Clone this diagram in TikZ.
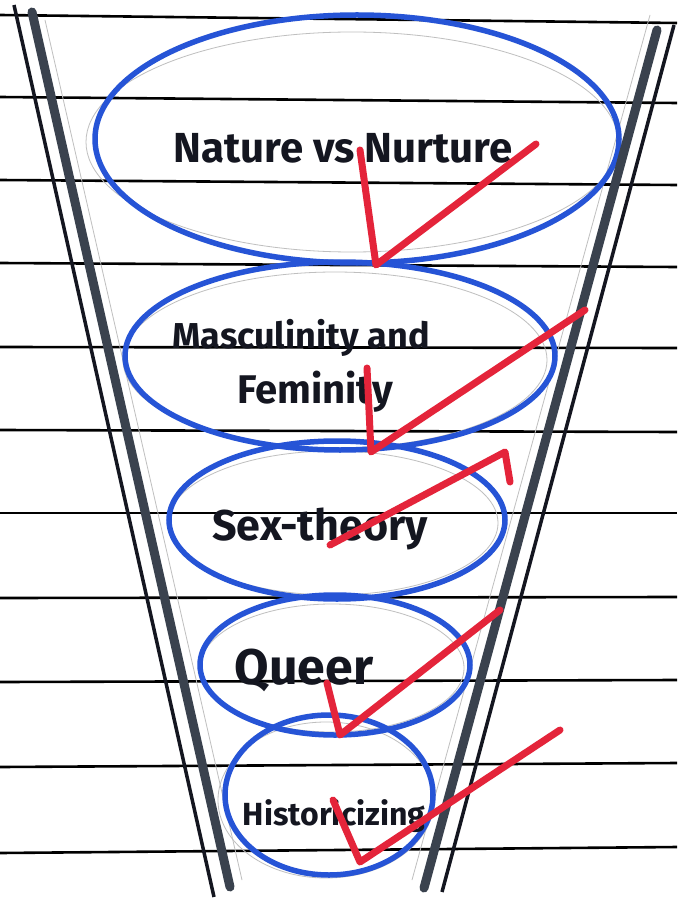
\documentclass[tikz,border=0pt]{standalone}
\usepackage{fontspec}
\setsansfont{Fira Sans}
\definecolor{inkblue}{RGB}{38,84,214}
\definecolor{tickred}{RGB}{228,36,58}
\definecolor{markgray}{RGB}{58,66,78}
\definecolor{inkblack}{RGB}{20,22,32}
\tikzset{
  rule/.style={line width=2.6pt, black},
  ring/.style={line width=5.5pt, inkblue},
  pencil/.style={line width=0.8pt, black!25},
  rimthin/.style={line width=3.5pt, inkblack},
  rimthick/.style={line width=9pt, markgray, line cap=round},
  tick/.style={line width=7pt, tickred, line cap=round, line join=round},
  word/.style={anchor=base, inkblack, font=\sffamily\bfseries}
}
\begin{document}
\begin{tikzpicture}[x=1pt, y=-1pt]
  \useasboundingbox (0,0) rectangle (677,901);
  \fill[white] (0,0) rectangle (677,901);
  % ruled paper
  \foreach \yl/\yr in {15/23, 97/103, 180/185, 263/267, 347/348, 430/432,
      513/513, 598/597, 682/680, 767/763, 853/847}
    \draw[rule] (0,\yl) -- (677,\yr);
  % pencil guide lines
  \draw[pencil] (45,20) -- (242,880);
  \draw[pencil] (650,15) -- (412,880);
  \foreach \cx/\cy/\rx/\ry in {352/142/266/110, 335/360/212/88,
      333/523/165/72, 332/668/132/64, 326/800/108/78}
    \draw[pencil] (\cx,\cy) ellipse [x radius=\rx, y radius=\ry];
  % stages
  \foreach \cx/\cy/\rx/\ry in {357/139/262/124, 340/356/215/94,
      337/520/168/79, 335/665/135/70, 329/795/104/80}
    \draw[ring] (\cx,\cy) ellipse [x radius=\rx, y radius=\ry];
  % funnel walls
  \draw[rimthin] (14,5) -- (214,897);
  \draw[rimthick] (32,12) -- (230,887);
  \draw[rimthick] (657,30) -- (424,888);
  \draw[rimthin] (674,25) -- (442,892);
  % labels
  \node[word, font=\sffamily\bfseries\fontsize{42}{46}\selectfont] (nature) at (343,163) {Nature vs Nurture};
  \node[word, font=\sffamily\bfseries\fontsize{36}{40}\selectfont] (masc) at (301,348) {Masculinity and};
  \node[word, font=\sffamily\bfseries\fontsize{40}{44}\selectfont] (fem) at (315,403) {Feminity};
  \node[word, font=\sffamily\bfseries\fontsize{43}{47}\selectfont] (sex) at (320,540) {Sex-theory};
  \node[word, font=\sffamily\bfseries\fontsize{50}{54}\selectfont] (queer) at (304,684) {Queer};
  \node[word, font=\sffamily\bfseries\fontsize{32}{36}\selectfont] (hist) at (334,825) {Historicizing};
  % ticks
  \draw[tick] (360,150) -- (376,265) -- (536,144);
  \draw[tick] (367,368) -- (371,452) -- (585,310);
  \draw[tick] (330,545) -- (505,452) -- (510,482);
  \draw[tick] (327,683) -- (340,735) -- (500,610);
  \draw[tick] (333,800) -- (360,862) -- (560,730);
\end{tikzpicture}
\end{document}
